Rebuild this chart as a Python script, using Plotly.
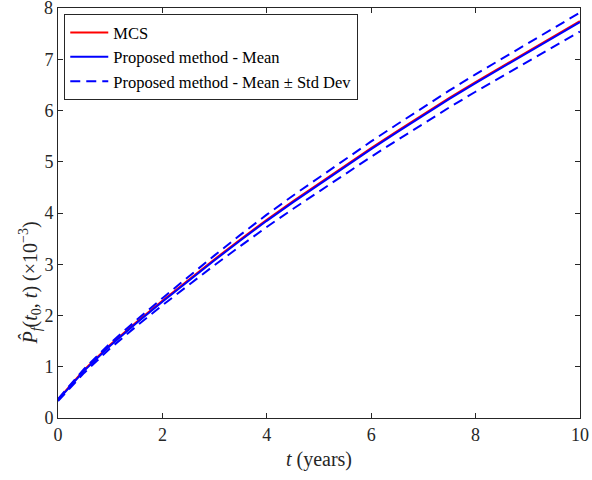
import plotly.graph_objects as go

t_years = [0, 0.5, 1, 1.5, 2, 2.5, 3, 3.5, 4, 4.5, 5, 5.5, 6, 6.5, 7, 7.5, 8, 8.5, 9, 9.5, 10]
mean_pf = [0.35, 0.92, 1.41, 1.85, 2.27, 2.68, 3.08, 3.47, 3.85, 4.21, 4.56, 4.91, 5.25, 5.58, 5.91, 6.23, 6.54, 6.84, 7.14, 7.44, 7.73]
mcs_pf = [0.36, 0.94, 1.43, 1.87, 2.29, 2.70, 3.10, 3.49, 3.87, 4.23, 4.58, 4.93, 5.27, 5.60, 5.93, 6.25, 6.56, 6.86, 7.16, 7.46, 7.75]
std_pf = [0.02, 0.04, 0.05, 0.06, 0.07, 0.08, 0.095, 0.11, 0.12, 0.13, 0.135, 0.14, 0.15, 0.155, 0.16, 0.165, 0.17, 0.175, 0.18, 0.18, 0.185]
x_ticks = [0, 2, 4, 6, 8, 10]
y_ticks = [0, 1, 2, 3, 4, 5, 6, 7, 8]

upper = [m + s for m, s in zip(mean_pf, std_pf)]
lower = [m - s for m, s in zip(mean_pf, std_pf)]

SERIF = "Liberation Serif, Times New Roman, serif"
TXT = "#262626"

fig = go.Figure()
fig.add_trace(go.Scatter(x=t_years, y=mcs_pf, mode="lines", name="MCS",
                         line=dict(color="#ff0000", width=2)))
fig.add_trace(go.Scatter(x=t_years, y=mean_pf, mode="lines", name="Proposed method - Mean",
                         line=dict(color="#0000ff", width=2)))
fig.add_trace(go.Scatter(x=t_years, y=upper, mode="lines", name="Proposed method - Mean ± Std Dev",
                         line=dict(color="#0000ff", width=2, dash="10px,6px")))
fig.add_trace(go.Scatter(x=t_years, y=lower, mode="lines", showlegend=False,
                         line=dict(color="#0000ff", width=2, dash="10px,6px")))

axis_common = dict(showgrid=False, zeroline=False, showline=True, linecolor=TXT,
                   linewidth=1, mirror="ticks", ticks="inside", ticklen=5, tickcolor=TXT,
                   automargin=False,
                   tickfont=dict(family=SERIF, size=18, color=TXT))

# the top y tick label is placed as an annotation (plotly hides it at the figure edge)
top_label = y_ticks[-1]
annotations = [
    dict(text="<i>P̂</i><sub><i>f</i></sub>(<i>t</i><sub>0</sub>, <i>t</i>) (×10<sup>−3</sup>)",
         textangle=-90, xref="paper", yref="paper", x=-0.054, y=0.33,
         xanchor="center", yanchor="middle", showarrow=False,
         font=dict(family=SERIF, size=20, color=TXT)),
    dict(text=str(top_label), xref="paper", yref="y", x=0, y=top_label,
         xanchor="right", yanchor="middle", xshift=-3, showarrow=False,
         font=dict(family=SERIF, size=18, color=TXT)),
]

fig.update_layout(
    width=592, height=480,
    margin=dict(l=58, r=12, t=8, b=62),
    paper_bgcolor="white", plot_bgcolor="white",
    font=dict(family=SERIF, color=TXT),
    xaxis=dict(range=[0, 10.002], tickvals=x_ticks, **axis_common,
               title=dict(text="<i>t</i> (years)", font=dict(family=SERIF, size=20), standoff=8)),
    yaxis=dict(range=[0, 8.005], tickvals=y_ticks, **axis_common),
    legend=dict(x=0.012, y=0.985, xanchor="left", yanchor="top",
                bordercolor=TXT, borderwidth=1, bgcolor="white",
                font=dict(family=SERIF, size=16.5, color="black"),
                tracegroupgap=0, itemwidth=38),
    annotations=annotations,
)

fig.write_html("out.html", config={"displayModeBar": False},
               post_script="document.body.style.margin='0';")
